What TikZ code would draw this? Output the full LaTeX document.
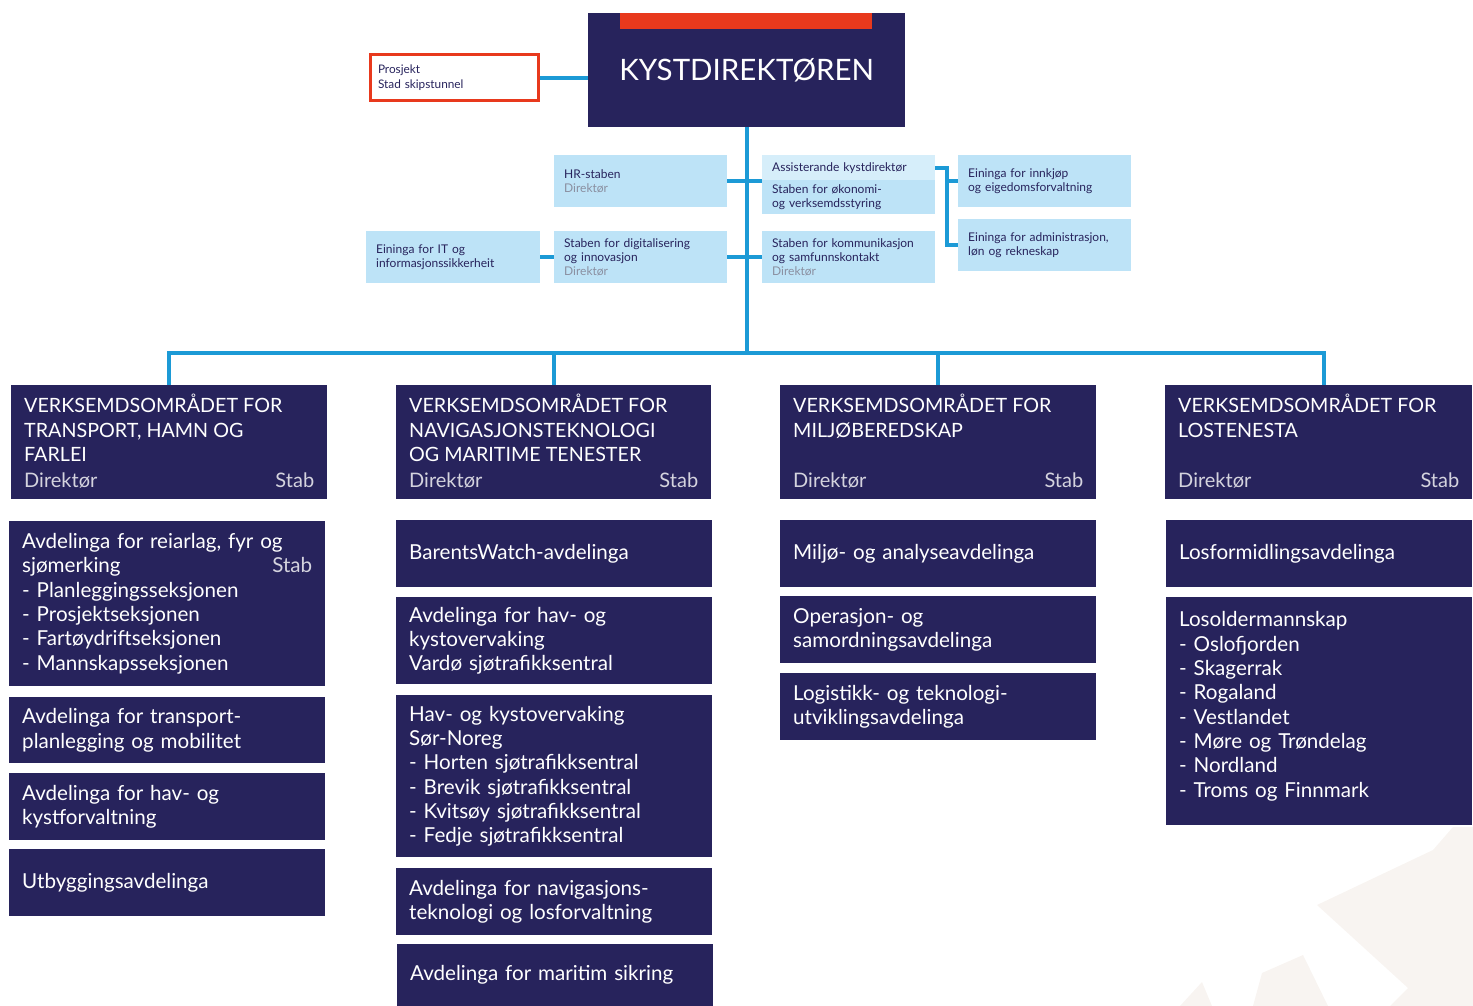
\documentclass[tikz,border=0pt]{standalone}
\usepackage{fontspec}
\setmainfont{Lato}
\usetikzlibrary{positioning}
\definecolor{navy}{HTML}{27235C}
\definecolor{lightblue}{HTML}{BDE3F7}
\definecolor{paleblue}{HTML}{D6EEFA}
\definecolor{linkblue}{HTML}{1C9AD6}
\definecolor{kvred}{HTML}{E8391D}
\definecolor{greytext}{HTML}{8A8FA0}
\definecolor{wmark}{HTML}{F8F4F1}

\begin{document}
\begin{tikzpicture}[x=1pt, y=-1pt,
    link/.style={draw=linkblue, line width=4pt},
    lbox/.style={fill=lightblue, text=navy, anchor=north west, align=left, inner xsep=10pt, inner ysep=0pt,
      text width=153pt, minimum height=52pt, font=\fontsize{12}{14}\selectfont},
    dbox/.style={fill=navy, anchor=north west, minimum width=316pt, minimum height=114pt},
    cbox/.style={fill=navy, text=white, anchor=north west, align=left, inner xsep=13pt,
      text width=290pt, font=\fontsize{20.6}{24.3}\selectfont},
    ttl/.style={text=white, anchor=north west, align=left, inner sep=0pt, font=\fontsize{19.7}{24.5}\selectfont},
    sub/.style={text=white!80!navy, inner sep=0pt, font=\fontsize{20}{24}\selectfont}]
  \useasboundingbox (0,0) rectangle (1473,1006);
  % faint background mark
  \fill[wmark] (1453,827) -- (1473,827) -- (1473,1006) -- (1390,1006) -- (1408,988)
    -- (1317,905) -- (1433,850) -- cycle;
  \fill[wmark] (1180,1006) -- (1202,982) -- (1212,1006) -- cycle;
  \fill[wmark] (1253,1006) -- (1262,973) -- (1303,955) -- (1328,1006) -- cycle;

  % top
  \node[fill=navy, text=white, anchor=north west, minimum width=317pt, minimum height=114pt,
    font=\fontsize{29.5}{30}\selectfont] (kyst) at (588,13) {KYSTDIREKTØREN};
  \fill[kvred] (620,13) rectangle (872,29);
  \node[draw=kvred, line width=3pt, anchor=north west, minimum width=168pt, minimum height=46pt,
    text width=152pt, inner xsep=6pt, align=left, text=navy,
    font=\fontsize{11.8}{15}\selectfont] (pro) at (368.5,53.5) {Prosjekt\\Stad skipstunnel};
  \draw[link] (pro.east) -- (pro.east -| kyst.west);

  % staffs
  \node[lbox] (hr) at (554,155) {HR-staben\\{\color{greytext}Direktør}};
  \node[lbox] (dig) at (554,231) {Staben for digitalisering\\og innovasjon\\{\color{greytext}Direktør}};
  \node[lbox, text width=154pt] (it) at (366,231) {Eininga for IT og\\informasjonssikkerheit};
  \node[lbox, fill=paleblue, minimum height=25pt] (ass) at (762,155) {Assisterande kystdirektør};
  \node[lbox, minimum height=34pt] (oko) at (762,180) {Staben for økonomi-\\og verksemdsstyring};
  \node[lbox] (kom) at (762,231) {Staben for kommunikasjon\\og samfunnskontakt\\{\color{greytext}Direktør}};
  \node[lbox] (inn) at (958,155) {Eininga for innkjøp\\og eigedomsforvaltning};
  \node[lbox] (adm) at (958,219) {Eininga for administrasjon,\\løn og rekneskap};

  % business areas
  \foreach \n/\x/\w/\t in {l1/11/316/{VERKSEMDSOMRÅDET FOR\\TRANSPORT, HAMN OG\\FARLEI},
      l2/396/315/{VERKSEMDSOMRÅDET FOR\\NAVIGASJONSTEKNOLOGI\\OG MARITIME TENESTER},
      l3/780/316/{VERKSEMDSOMRÅDET FOR\\MILJØBEREDSKAP},
      l4/1165/307/{VERKSEMDSOMRÅDET FOR\\LOSTENESTA}} {
    \node[dbox, minimum width=\w pt] (\n) at (\x,385) {};
    \node[ttl] at ([shift={(13,9)}]\n.north west) {\t};
    \node[sub, anchor=base west] at ([shift={(13,-12)}]\n.south west) {Direktør};
    \node[sub, anchor=base east] at ([shift={(-13,-12)}]\n.south east) {Stab};
  }

  % departments
  \node[cbox, minimum height=165pt] (c11) at (9,521) {Avdelinga for reiarlag, fyr og\\
    \makebox[290pt][s]{sjømerking\hfill{\color{white!80!navy}Stab}}\\- Planleggingsseksjonen\\
    - Prosjektseksjonen\\- Fartøydriftseksjonen\\- Mannskapsseksjonen};
  \node[cbox, minimum height=66pt] (c12) at (9,697) {Avdelinga for transport-\\planlegging og mobilitet};
  \node[cbox, minimum height=67pt] (c13) at (9,773) {Avdelinga for hav- og\\kystforvaltning};
  \node[cbox, minimum height=67pt] (c14) at (9,849) {Utbyggingsavdelinga};

  \node[cbox, minimum height=67pt] (c21) at (396,520) {BarentsWatch-avdelinga};
  \node[cbox, minimum height=87pt] (c22) at (396,597) {Avdelinga for hav- og\\kystovervaking\\Vardø sjøtrafikksentral};
  \node[cbox, minimum height=162pt] (c23) at (396,695) {Hav- og kystovervaking\\Sør-Noreg\\
    - Horten sjøtrafikksentral\\- Brevik sjøtrafikksentral\\- Kvitsøy sjøtrafikksentral\\- Fedje sjøtrafikksentral};
  \node[cbox, minimum height=67pt] (c24) at (396,868) {Avdelinga for navigasjons-\\teknologi og losforvaltning};
  \node[cbox, minimum height=62pt] (c25) at (397,944) {Avdelinga for maritim sikring};

  \node[cbox, minimum height=67pt] (c31) at (780,520) {Miljø- og analyseavdelinga};
  \node[cbox, minimum height=67pt] (c32) at (780,596) {Operasjon- og\\samordningsavdelinga};
  \node[cbox, minimum height=67pt] (c33) at (780,673) {Logistikk- og teknologi-\\utviklingsavdelinga};

  \node[cbox, text width=280pt, minimum height=67pt] (c41) at (1166,520) {Losformidlingsavdelinga};
  \node[cbox, text width=280pt, minimum height=228pt] (c42) at (1166,597) {Losoldermannskap\\
    - Oslofjorden\\- Skagerrak\\- Rogaland\\- Vestlandet\\- Møre og Trøndelag\\- Nordland\\- Troms og Finnmark\\[-18pt]\strut};

  % connectors
  \coordinate (busy) at (0,353);
  \draw[link] (kyst.south) -- (kyst.south |- busy);
  \draw[link] (l1.north) -- (l1.north |- busy) -- ([xshift=5pt]l4.north |- busy) -- ([xshift=5pt]l4.north);
  \foreach \n in {l2,l3}
    \draw[link] (\n.north) -- (\n.north |- busy);
  \draw[link] (hr.east) -- (hr.east -| oko.west);
  \draw[link] (dig.east) -- (kom.west);
  \draw[link] (it.east) -- (dig.west);
  \draw[link] (ass.east) -- ++(12,0) coordinate (brk) |- (adm.west);
  \draw[link] (brk |- inn.west) -- (inn.west);
\end{tikzpicture}
\end{document}
